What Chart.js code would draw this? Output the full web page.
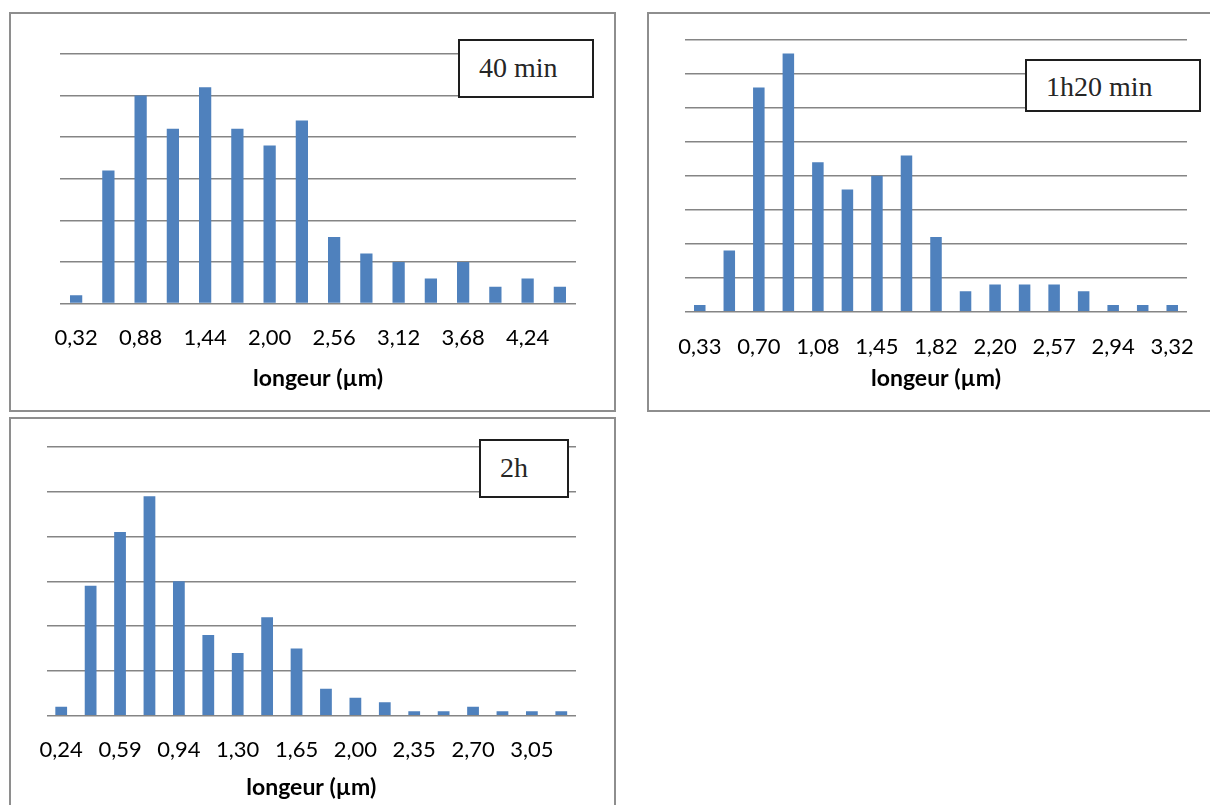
<!DOCTYPE html>
<html>
<head>
<meta charset="utf-8">
<script src="https://cdn.jsdelivr.net/npm/chart.js@4.4.1/dist/chart.umd.min.js"></script>
<style>
  html, body { margin: 0; padding: 0; background: #ffffff; width: 1210px; height: 805px; overflow: hidden; }
  .frame { position: absolute; box-sizing: border-box; border: 2px solid #8e8e8e; background: #fff; }
  .frame canvas { position: absolute; left: 0; top: 0; }
  .tag { position: absolute; box-sizing: border-box; border: 2px solid #1e1e1e; background: #fff;
         font-family: "Liberation Serif", "Times New Roman", serif; font-size: 28px; color: #262626;
         white-space: nowrap; padding-left: 19px; }
</style>
</head>
<body>
<div class="frame" style="left:9px; top:12px; width:607px; height:400px;"><canvas id="c1" width="603" height="396"></canvas></div>
<div class="frame" style="left:647px; top:12px; width:580px; height:400px;"><canvas id="c2" width="570" height="396"></canvas></div>
<div class="frame" style="left:9px; top:417px; width:607px; height:400px;"><canvas id="c3" width="603" height="396"></canvas></div>

<div class="tag" style="left:458px; top:39px; width:136px; height:59px; line-height:53px;">40 min</div>
<div class="tag" style="left:1025px; top:59px; width:176px; height:53px; line-height:51px;">1h20 min</div>
<div class="tag" style="left:479px; top:439px; width:90px; height:59px; line-height:53px;">2h</div>

<script>
// ---- data ----
const categories40 = ['0,32','0,60','0,88','1,16','1,44','1,72','2,00','2,28','2,56','2,84','3,12','3,40','3,68','3,96','4,24','4,52'];
const counts40 = [1, 16, 25, 21, 26, 21, 19, 22, 8, 6, 5, 3, 5, 2, 3, 2];

const categories80 = ['0,33','0,52','0,70','0,89','1,08','1,26','1,45','1,63','1,82','2,01','2,20','2,38','2,57','2,75','2,94','3,13','3,32'];
const counts80 = [1, 9, 33, 38, 22, 18, 20, 23, 11, 3, 4, 4, 4, 3, 1, 1, 1];

const categories120 = ['0,24','0,42','0,59','0,77','0,94','1,12','1,30','1,47','1,65','1,82','2,00','2,17','2,35','2,52','2,70','2,87','3,05','3,23'];
const counts120 = [2, 29, 41, 49, 30, 18, 14, 22, 15, 6, 4, 3, 1, 1, 2, 1, 1, 1];

const axisTitle = 'longeur (µm)';

Chart.defaults.font.family = 'Lato, "Open Sans", sans-serif';
Chart.defaults.color = '#000000';

function makeChart(id, labels, values, yMax, yStep, lay) {
  const canvasH = document.getElementById(id).height;
  new Chart(document.getElementById(id), {
    type: 'bar',
    data: {
      labels: labels,
      datasets: [{
        data: values,
        backgroundColor: '#4F81BD',
        borderWidth: 0,
        categoryPercentage: 1.0,
        barPercentage: lay.bar
      }]
    },
    options: {
      responsive: false,
      animation: false,
      events: [],
      layout: { padding: { left: lay.left, right: lay.right, top: lay.top, bottom: 0 } },
      plugins: { legend: { display: false }, tooltip: { enabled: false }, title: { display: false } },
      scales: {
        x: {
          grid: { display: false, drawTicks: false },
          border: { display: false },
          ticks: {
            autoSkip: false, maxRotation: 0, minRotation: 0,
            padding: lay.tickPad,
            font: { size: 22 },
            color: '#000',
            callback: function (v, i) { return i % 2 === 0 ? this.getLabelForValue(v) : ''; }
          },
          title: {
            display: true, text: axisTitle, color: '#000',
            font: { size: 23, weight: 'bold' },
            padding: { top: 0, bottom: lay.titlePad }
          },
          afterFit: function (s) { s.height = canvasH - lay.plotBottom; }
        },
        y: {
          min: 0, max: yMax,
          ticks: { display: false, stepSize: yStep },
          grid: { color: '#858585', lineWidth: 1.4, drawTicks: false },
          border: { display: false },
          afterFit: function (s) { s.width = 0; }
        }
      }
    }
  });
}

makeChart('c1', categories40, counts40, 30, 5,
  { left: 49, right: 38, top: 40, plotBottom: 289.5, tickPad: 21.5, titlePad: 18, bar: 0.38 });
makeChart('c2', categories80, counts80, 40, 5,
  { left: 36, right: 32, top: 26, plotBottom: 297.7, tickPad: 22, titlePad: 18, bar: 0.39 });
makeChart('c3', categories120, counts120, 60, 10,
  { left: 35.5, right: 38, top: 28, plotBottom: 296.7, tickPad: 21, titlePad: 14, bar: 0.40 });
</script>
</body>
</html>
